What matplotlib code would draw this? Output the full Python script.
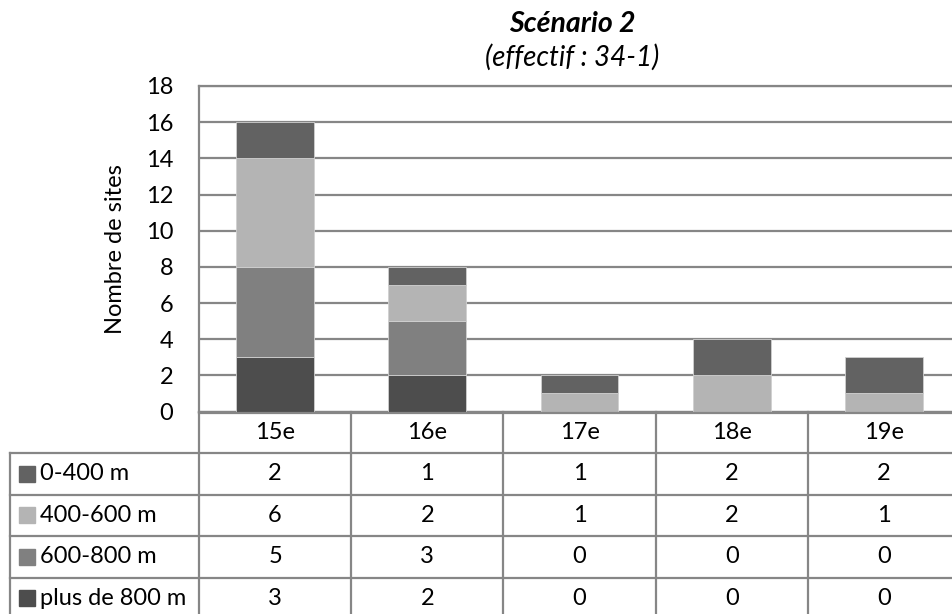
import matplotlib.pyplot as plt
from matplotlib.lines import Line2D
from matplotlib.patches import Rectangle

plt.rcParams['font.family'] = ['Lato', 'DejaVu Sans']

categories = ['15e', '16e', '17e', '18e', '19e']
series = ['0-400 m', '400-600 m', '600-800 m', 'plus de 800 m']
v_0_400 = [2, 1, 1, 2, 2]
v_400_600 = [6, 2, 1, 2, 1]
v_600_800 = [5, 3, 0, 0, 0]
v_plus_800 = [3, 2, 0, 0, 0]
values = [v_0_400, v_400_600, v_600_800, v_plus_800]
colors = ['#626262', '#b4b4b4', '#808080', '#4d4d4d']
grid_c = '#868686'
fs = 17

W, H = 953, 614
fig = plt.figure(figsize=(W / 100, H / 100), dpi=100)


def fx(px):
    return px / W


def fy(py):
    return 1 - py / H


# plot area runs a little past the right edge of the image
left, right, top, bottom = 199, 960, 86, 411.5
ax = fig.add_axes([fx(left), fy(bottom), fx(right) - fx(left), fy(top) - fy(bottom)])

x = list(range(len(categories)))
# stack from the bottom: plus de 800 m, 600-800, 400-600, 0-400
base = [0] * len(categories)
for i in [3, 2, 1, 0]:
    ax.bar(x, values[i], width=0.51, bottom=base, color=colors[i],
           edgecolor='#d0d0d0', linewidth=0.6, zorder=3)
    base = [b + v for b, v in zip(base, values[i])]

ax.set_xlim(-0.5, len(categories) - 0.5)
ax.set_ylim(0, 18)
ax.set_yticks(range(0, 19, 2))
ax.set_xticks([])
ax.yaxis.grid(True, color=grid_c, linewidth=1.6, zorder=0)
ax.tick_params(axis='y', length=0, labelsize=fs, pad=18.5)
for s in ax.spines.values():
    s.set_color(grid_c)
    s.set_linewidth(1.6)
ax.spines['right'].set_visible(False)
ax.set_ylabel('Nombre de sites', fontsize=fs)
ax.yaxis.set_label_coords((126 - left) / (right - left), 0.5)

fig.text(fx(572), fy(24), 'Scénario 2', ha='center', va='center',
         fontsize=20.5, fontweight='bold', style='italic')
fig.text(fx(572), fy(57), '(effectif : 34-1)', ha='center', va='center',
         fontsize=20, style='italic')

# data table below the axis (its last row runs off the bottom of the image)
row_h = 41.5
col_w = (right - left) / len(categories)
tbl_left = 10
tbl_bottom = bottom + row_h * (len(series) + 1)


def hline(x0, x1, y):
    fig.add_artist(Line2D([fx(x0), fx(x1)], [fy(y), fy(y)], color=grid_c, lw=1.6))


def vline(xp, y0, y1):
    fig.add_artist(Line2D([fx(xp), fx(xp)], [fy(y0), fy(y1)], color=grid_c, lw=1.6))


hline(left, right, bottom + 1)
for r in range(1, len(series) + 2):
    hline(tbl_left, right, bottom + r * row_h)
vline(tbl_left, bottom + row_h, tbl_bottom)
for c in range(len(categories) + 1):
    vline(left + c * col_w, bottom, tbl_bottom)

for j, cat in enumerate(categories):
    fig.text(fx(left + (j + 0.5) * col_w), fy(bottom + row_h / 2), cat,
             ha='center', va='center', fontsize=fs)

for i, name in enumerate(series):
    yc = bottom + (i + 1.5) * row_h
    fig.add_artist(Rectangle((fx(19), fy(yc + 8)), fx(16), fy(0) - fy(16),
                             color=colors[i], transform=fig.transFigure))
    fig.text(fx(40), fy(yc), name, ha='left', va='center', fontsize=fs)
    for j, v in enumerate(values[i]):
        fig.text(fx(left + (j + 0.5) * col_w), fy(yc), str(v),
                 ha='center', va='center', fontsize=fs)

fig.savefig('out.png', dpi=100)
